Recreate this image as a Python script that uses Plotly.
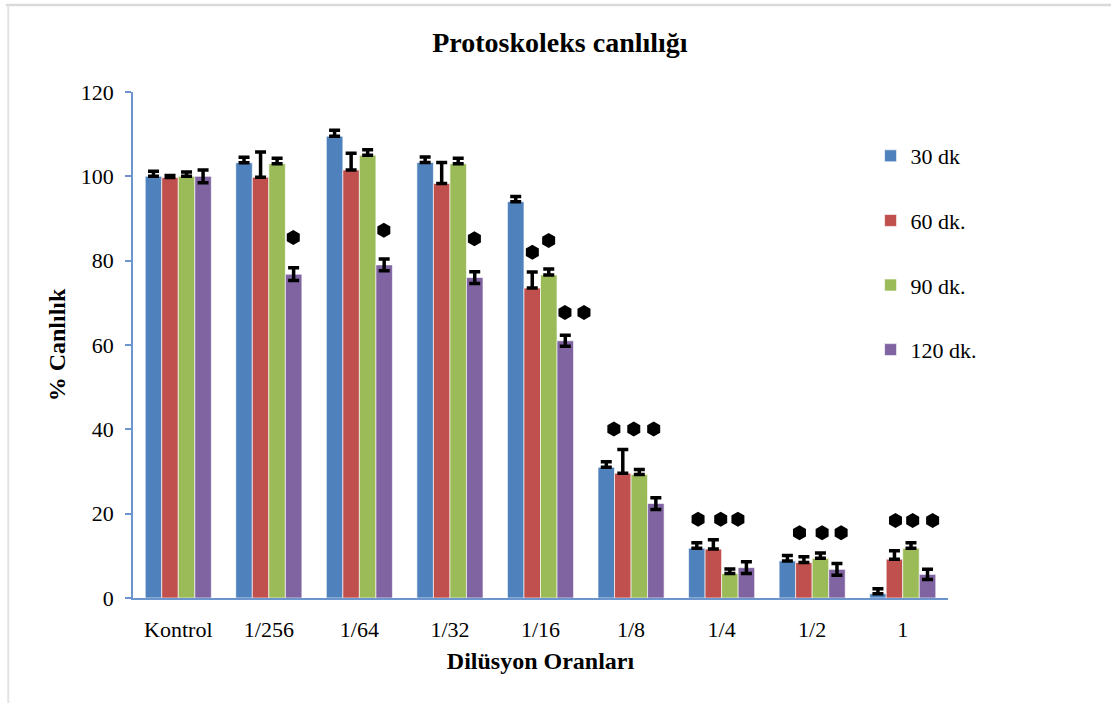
import plotly.graph_objects as go

categories = ["Kontrol", "1/256", "1/64", "1/32", "1/16", "1/8", "1/4", "1/2", "1"]
series_names = ["30 dk", "60 dk.", "90 dk.", "120 dk."]

v30 = [100.0, 103.2, 109.5, 103.3, 94.0, 31.0, 11.8, 8.8, 1.0]
v60 = [99.7, 99.8, 101.5, 98.3, 73.5, 29.6, 11.6, 8.4, 9.2]
v90 = [100.0, 103.0, 105.0, 103.0, 76.6, 29.3, 5.8, 9.4, 11.8]
v120 = [100.0, 76.8, 79.0, 76.0, 61.0, 22.4, 7.2, 6.8, 5.6]

e30 = [1.2, 1.3, 1.4, 1.3, 1.2, 1.3, 1.3, 1.3, 1.2]
e60 = [0.5, 6.0, 4.0, 5.0, 3.8, 5.6, 2.2, 1.4, 2.0]
e90 = [1.0, 1.3, 1.3, 1.3, 1.4, 1.2, 1.1, 1.3, 1.3]
e120 = [1.5, 1.5, 1.4, 1.4, 1.3, 1.4, 1.4, 1.4, 1.2]

colors = ["#4F81BD", "#C0504D", "#9BBB59", "#8064A2"]

# significance marks: category index, offset within group (category units), height
sig_cat = [1, 2, 3, 4, 4, 4, 4, 5, 5, 5, 6, 6, 6, 7, 7, 7, 8, 8, 8]
sig_off = [0.27, 0.27, 0.27, -0.09, 0.09, 0.27, 0.48,
           -0.19, 0.03, 0.25, -0.26, -0.01, 0.18,
           -0.14, 0.11, 0.32, -0.08, 0.11, 0.33]
sig_y = [85.5, 87.2, 85.2, 82.0, 84.8, 67.7, 67.7,
         40.1, 40.1, 40.1, 18.7, 18.7, 18.7,
         15.5, 15.5, 15.5, 18.4, 18.4, 18.4]

xs = list(range(len(categories)))
fig = go.Figure()
vals = [v30, v60, v90, v120]
errs = [e30, e60, e90, e120]
for i, (name, v, e) in enumerate(zip(series_names, vals, errs)):
    sym = (i == 3)
    fig.add_trace(go.Bar(
        x=xs, y=v, name=name, legendgroup=name,
        marker=dict(color=colors[i], line=dict(color="rgba(255,255,255,0.8)", width=0.8)),
        error_y=dict(type="data", array=e, arrayminus=(e if sym else [0] * len(e)),
                     symmetric=False, color="black", thickness=3.5, width=5.5),
    ))

fig.add_trace(go.Scatter(
    x=[c + o for c, o in zip(sig_cat, sig_off)], y=sig_y, mode="markers",
    marker=dict(symbol="hexagon", size=15, color="black"),
    showlegend=False, hoverinfo="skip", cliponaxis=False,
))

serif = "Liberation Serif, Times New Roman, serif"
axis_col = "#6B95CC"
fig.update_layout(
    width=1111, height=703,
    paper_bgcolor="white", plot_bgcolor="white",
    margin=dict(l=133, r=163, t=92, b=105),
    barmode="group", bargap=0.27, bargroupgap=0,
    font=dict(family=serif, size=22, color="black"),
    title=dict(text="<b>Protoskoleks canlılığı</b>", x=0.504, xref="container",
               y=0.94, yref="container", xanchor="center", yanchor="middle",
               font=dict(family=serif, size=28, color="black")),
    legend=dict(x=0.905, y=0.915, xanchor="left", yanchor="top",
                font=dict(family=serif, size=22), tracegroupgap=33,
                bgcolor="rgba(0,0,0,0)", itemwidth=30),
    showlegend=True,
    xaxis=dict(range=[-0.5, 8.5], tickvals=xs, ticktext=categories,
               showline=True, linecolor=axis_col, linewidth=1.5,
               ticks="outside", ticklen=0, ticklabelstandoff=11,
               showgrid=False, zeroline=False,
               title=dict(text="<b>Dilüsyon Oranları</b>", standoff=11,
                          font=dict(family=serif, size=24))),
    yaxis=dict(range=[0, 120], tickvals=[0, 20, 40, 60, 80, 100, 120],
               showline=True, linecolor=axis_col, linewidth=1.5,
               ticks="outside", ticklen=6, tickcolor=axis_col, tickwidth=1.5,
               ticklabelstandoff=7,
               showgrid=False, zeroline=False,
               title=dict(text="<b>% Canlılık</b>", standoff=8,
                          font=dict(family=serif, size=24))),
    shapes=[
        dict(type="line", xref="paper", yref="paper", x0=-0.156, x1=1.2, y0=1.172, y1=1.172,
             line=dict(color="#D9D9D9", width=2.5)),
        dict(type="line", xref="paper", yref="paper", x0=-0.153, x1=-0.153, y0=1.172, y1=-0.21,
             line=dict(color="#E3E3E3", width=2)),
    ],
)

fig.write_html("out.html", post_script="document.body.style.margin='0';",
               config={"displayModeBar": False})
